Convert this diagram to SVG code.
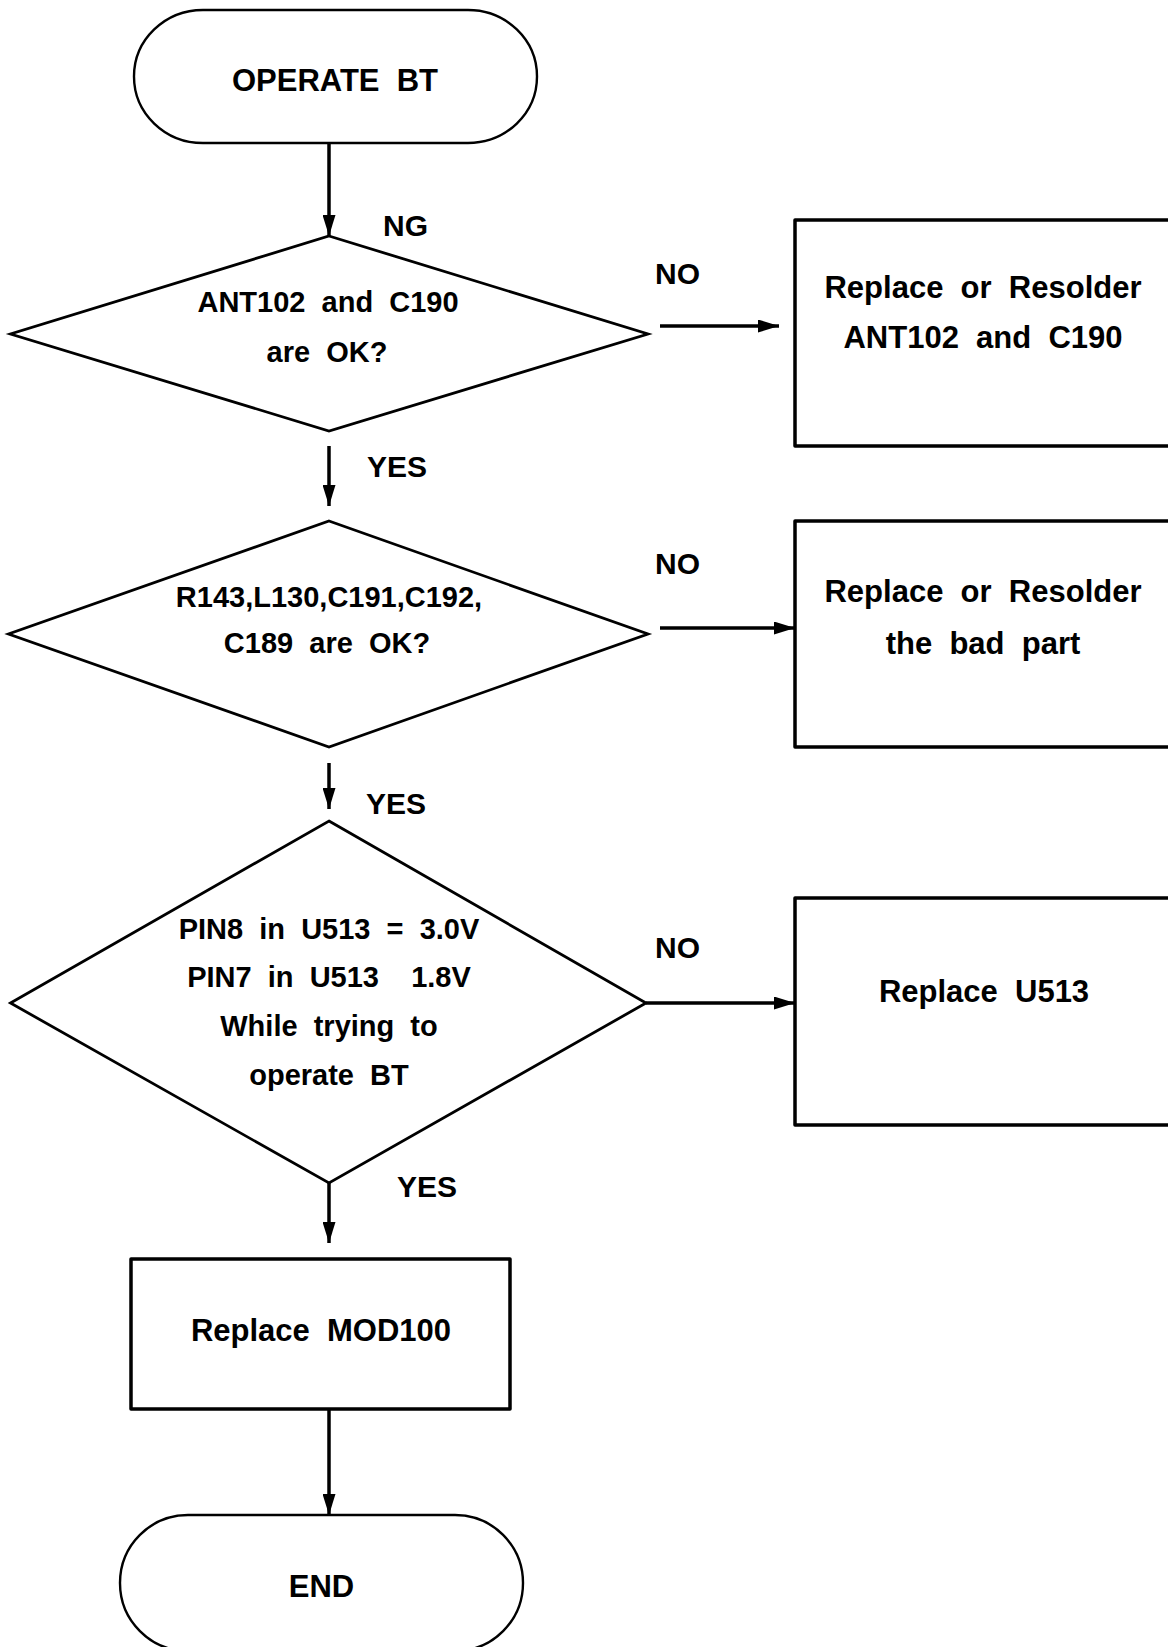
<svg xmlns="http://www.w3.org/2000/svg" width="1168" height="1647" viewBox="0 0 1168 1647">
<style>
  text { font-family: "Liberation Sans", Arial, sans-serif; font-weight: bold; fill: #000; white-space: pre; }
  .t { font-size: 31px; text-anchor: middle; }
  .d { font-size: 29px; text-anchor: middle; }
  .lbl { font-size: 30px; }
  .term { fill: #fff; stroke: #000; stroke-width: 2.4; }
  .box { fill: #fff; stroke: #000; stroke-width: 3.5; stroke-linejoin: round; }
  .dia { fill: #fff; stroke: #000; stroke-width: 2.8; stroke-linejoin: miter; }
  .con { stroke: #000; stroke-width: 3.5; fill: none; marker-end: url(#arr); }
</style>
<defs>
  <marker id="arr" markerUnits="userSpaceOnUse" markerWidth="21" markerHeight="13" refX="21" refY="6.5" orient="auto">
    <path d="M0,0 L21,6.5 L0,13 Z" fill="#000"/>
  </marker>
</defs>
<rect width="1168" height="1647" fill="#fff"/>

<g id="connectors">
  <line class="con" x1="329" y1="144" x2="329" y2="236"/>
  <line class="con" x1="660" y1="326" x2="779" y2="326"/>
  <line class="con" x1="329" y1="446" x2="329" y2="506"/>
  <line class="con" x1="660" y1="628" x2="795" y2="628"/>
  <line class="con" x1="329" y1="763" x2="329" y2="809"/>
  <line class="con" x1="646" y1="1003" x2="795" y2="1003"/>
  <line class="con" x1="329" y1="1183" x2="329" y2="1243"/>
  <line class="con" x1="329" y1="1410" x2="329" y2="1515"/>
  <text class="lbl" x="383" y="236">NG</text>
  <text class="lbl" x="655" y="284">NO</text>
  <text class="lbl" x="367" y="477">YES</text>
  <text class="lbl" x="655" y="574">NO</text>
  <text class="lbl" x="366" y="814">YES</text>
  <text class="lbl" x="655" y="958">NO</text>
  <text class="lbl" x="397" y="1197">YES</text>
</g>

<g id="start">
  <rect class="term" x="134" y="10" width="403" height="133" rx="69" ry="66.5"/>
  <text class="t" x="335" y="91">OPERATE  BT</text>
</g>

<g id="check1">
  <polygon class="dia" points="329,236 648,334 329,431 10.5,334"/>
  <text class="d" x="328" y="312">ANT102  and  C190</text>
  <text class="d" x="327" y="362">are  OK?</text>
</g>

<g id="fix1">
  <rect class="box" x="795" y="220" width="400" height="226"/>
  <text class="t" x="983" y="298">Replace  or  Resolder</text>
  <text class="t" x="983" y="348">ANT102  and  C190</text>
</g>

<g id="check2">
  <polygon class="dia" points="329,521 648,634 329,747 8.5,634"/>
  <text class="d" x="329" y="607">R143,L130,C191,C192,</text>
  <text class="d" x="327" y="653">C189  are  OK?</text>
</g>

<g id="fix2">
  <rect class="box" x="795" y="521" width="400" height="226"/>
  <text class="t" x="983" y="602">Replace  or  Resolder</text>
  <text class="t" x="983" y="654">the  bad  part</text>
</g>

<g id="check3">
  <polygon class="dia" points="329,821 646,1003 329,1183 10.5,1003"/>
  <text class="d" x="329" y="939">PIN8  in  U513  =  3.0V</text>
  <text class="d" x="329" y="987">PIN7  in  U513    1.8V</text>
  <text class="d" x="329" y="1036">While  trying  to</text>
  <text class="d" x="329" y="1085">operate  BT</text>
</g>

<g id="fix3">
  <rect class="box" x="795" y="898" width="400" height="227"/>
  <text class="t" x="984" y="1002">Replace  U513</text>
</g>

<g id="fix4">
  <rect class="box" x="131" y="1259" width="379" height="150"/>
  <text class="t" x="321" y="1341">Replace  MOD100</text>
</g>

<g id="end">
  <rect class="term" x="120" y="1515" width="403" height="136" rx="68" ry="68"/>
  <text class="t" x="321.5" y="1597">END</text>
</g>
</svg>
